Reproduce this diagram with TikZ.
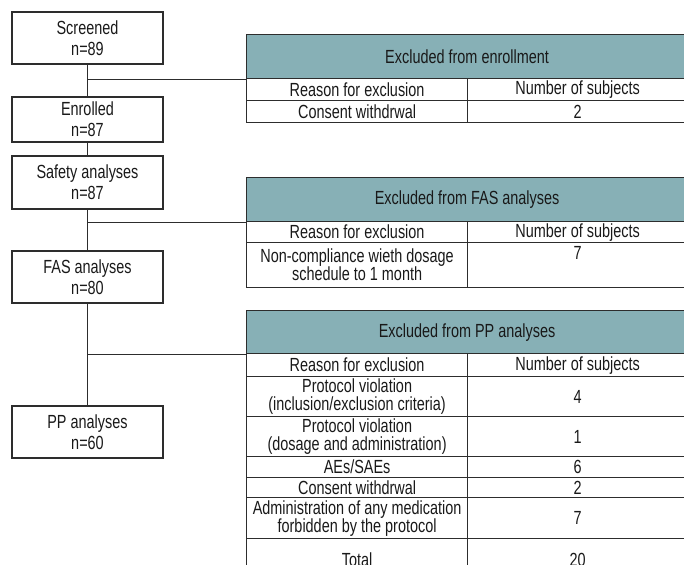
\documentclass[tikz,border=0pt]{standalone}
\usepackage{fontspec}
\setmainfont{Liberation Sans}[FakeStretch=0.76]
\definecolor{headteal}{RGB}{135,176,182}
\definecolor{linegray}{RGB}{45,45,45}

\begin{document}
\begin{tikzpicture}[x=1pt, y=-1pt,
    box/.style={draw=linegray, line width=1.2pt, minimum width=151pt, inner sep=0pt, align=center, text=black!90, font=\fontsize{19}{20.6}\selectfont},
    cell/.style={draw=linegray, line width=1.2pt, anchor=north west, inner sep=0pt, align=center, text=black!90, font=\fontsize{19}{18}\selectfont},
    colA/.style={cell, minimum width=221pt},
    colB/.style={cell, minimum width=220pt},
    head/.style={cell, fill=headteal, minimum width=441pt},
    link/.style={draw=linegray, line width=1.2pt}]
    \useasboundingbox (0,0) rectangle (684,564);
    \clip (0,0) rectangle (684,564);

    % Flow boxes
    \node[box, minimum height=52pt] (scr) at (87.5,38) {Screened\\n=89};
    \node[box, minimum height=45pt] (enr) at (87.5,119.5) {Enrolled\\n=87};
    \node[box, minimum height=53pt] (saf) at (87.5,182.5) {Safety analyses\\n=87};
    \node[box, minimum height=52pt] (fas) at (87.5,277) {FAS analyses\\n=80};
    \node[box, minimum height=52pt] (pp) at (87.5,432) {PP analyses\\n=60};

    % Excluded from enrollment
    \node[head, minimum height=44pt] (t1h) at (246,34) {Excluded from enrollment};
    \node[colA, minimum height=22pt] (t1a1) at (246,78) {Reason for exclusion};
    \node[colB, minimum height=22pt] (t1b1) at (467,78) {Number of subjects};
    \node[colA, minimum height=22pt] (t1a2) at (246,100) {Consent withdrwal};
    \node[colB, minimum height=22pt] (t1b2) at (467,100) {2};

    % Excluded from FAS analyses
    \node[head, minimum height=44pt] (t2h) at (246,177) {Excluded from FAS analyses};
    \node[colA, minimum height=21pt] (t2a1) at (246,221) {Reason for exclusion};
    \node[colB, minimum height=21pt] (t2b1) at (467,221) {Number of subjects};
    \node[colA, minimum height=45pt] (t2a2) at (246,242) {Non-compliance wieth dosage\\schedule to 1 month};
    \node[colB, minimum height=45pt] (t2b2) at (467,242) {7\\\strut};

    % Excluded from PP analyses
    \node[head, minimum height=43pt] (t3h) at (246,310) {Excluded from PP analyses};
    \node[colA, minimum height=23pt] (t3a1) at (246,353) {Reason for exclusion};
    \node[colB, minimum height=23pt] (t3b1) at (467,353) {Number of subjects};
    \node[colA, minimum height=40pt] (t3a2) at (246,376) {Protocol violation\\(inclusion/exclusion criteria)};
    \node[colB, minimum height=40pt] (t3b2) at (467,376) {4};
    \node[colA, minimum height=40pt] (t3a3) at (246,416) {Protocol violation\\(dosage and administration)};
    \node[colB, minimum height=40pt] (t3b3) at (467,416) {1};
    \node[colA, minimum height=21pt] (t3a4) at (246,456) {AEs/SAEs};
    \node[colB, minimum height=21pt] (t3b4) at (467,456) {6};
    \node[colA, minimum height=20pt] (t3a5) at (246,477) {Consent withdrwal};
    \node[colB, minimum height=20pt] (t3b5) at (467,477) {2};
    \node[colA, minimum height=41pt] (t3a6) at (246,497) {Administration of any medication\\forbidden by the protocol};
    \node[colB, minimum height=41pt] (t3b6) at (467,497) {7};
    \node[colA, minimum height=42pt] (t3a7) at (246,538) {Total};
    \node[colB, minimum height=42pt] (t3b7) at (467,538) {20};

    % Main flow
    \draw[link] (scr) -- (enr);
    \draw[link] (enr) -- (saf);
    \draw[link] (saf) -- (fas);
    \draw[link] (fas) -- (pp);

    % Branches to the tables
    \coordinate (jA) at (scr.south |- t1h.south);
    \coordinate (jB) at (saf.south |- t2h.south);
    \coordinate (jC) at (fas.south |- t3h.south);
    \draw[link] (jA) -- (t1h.south west);
    \draw[link] (jB) -- (t2h.south west);
    \draw[link] (jC) -- (t3h.south west);
\end{tikzpicture}
\end{document}
